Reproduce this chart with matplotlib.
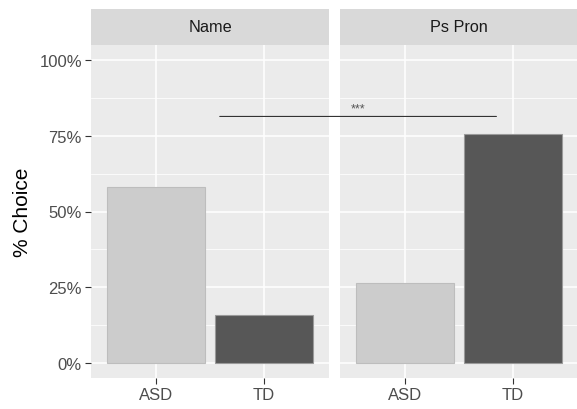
import matplotlib
matplotlib.use("Agg")
import matplotlib.pyplot as plt
from matplotlib.patches import ConnectionPatch
from matplotlib.ticker import FixedLocator, PercentFormatter

plt.rcParams['font.family'] = ['Liberation Sans', 'DejaVu Sans']

panels = ["Name", "Ps Pron"]
groups = ["ASD", "TD"]
values = {"Name": [0.58, 0.158], "Ps Pron": [0.263, 0.757]}
bar_colors = ["#CCCCCC", "#575757"]
yticks = [0, 0.25, 0.5, 0.75, 1.0]
yminor = [0.125, 0.375, 0.625, 0.875]
sig_label = "***"
sig_y = 0.814

W, H = 577, 410
fig = plt.figure(figsize=(W / 100, H / 100), dpi=100)

pan_w = 238 / W
pan_bottom = (H - 379) / H
pan_h = 333 / H
strip_h = 36 / H
lefts = [91 / W, 340 / W]

axes = []
for i, (p, l) in enumerate(zip(panels, lefts)):
    ax = fig.add_axes([l, pan_bottom, pan_w, pan_h])
    ax.set_facecolor("#EBEBEB")
    for s in ax.spines.values():
        s.set_visible(False)
    x = list(range(1, len(groups) + 1))
    ax.bar(x, values[p], width=0.9, color=bar_colors, edgecolor=["#BDBDBD", "#9A9A9A"],
           linewidth=0.8, zorder=3)
    ax.set_xlim(0.4, 2.6)
    ax.set_ylim(-0.05, 1.05)
    ax.set_xticks(x)
    ax.set_xticklabels(groups)
    ax.yaxis.set_major_locator(FixedLocator(yticks))
    ax.yaxis.set_minor_locator(FixedLocator(yminor))
    ax.yaxis.set_major_formatter(PercentFormatter(1.0, decimals=0))
    ax.grid(which="major", color="white", linewidth=1.1, zorder=0)
    ax.grid(which="minor", axis="y", color="white", linewidth=0.55, zorder=0)
    ax.set_axisbelow(True)
    ax.tick_params(axis="both", which="major", length=4, width=0.8, color="#333333",
                   labelsize=12, labelcolor="#4D4D4D", pad=2.5)
    ax.tick_params(axis="y", which="minor", length=0)
    if i == 0:
        ax.set_ylabel("% Choice", fontsize=15, color="black", labelpad=5)
    else:
        ax.tick_params(axis="y", which="major", length=0, labelleft=False)
    # strip
    sax = fig.add_axes([l, pan_bottom + pan_h, pan_w, strip_h])
    sax.set_facecolor("#D9D9D9")
    sax.set_xticks([]); sax.set_yticks([])
    for s in sax.spines.values():
        s.set_visible(False)
    sax.text(0.5, 0.5, p, ha="center", va="center", fontsize=11.7, color="#1A1A1A",
             transform=sax.transAxes)
    axes.append(ax)

con = ConnectionPatch(xyA=(1.59, sig_y), coordsA=axes[0].transData,
                      xyB=(1.846, sig_y), coordsB=axes[1].transData,
                      color="#333333", linewidth=0.8, zorder=5)
fig.add_artist(con)
axes[1].text(0.565, sig_y + 0.028, sig_label, ha="center", va="center", fontsize=9,
             color="#555555", zorder=5)

fig.savefig("out.png", dpi=100)
